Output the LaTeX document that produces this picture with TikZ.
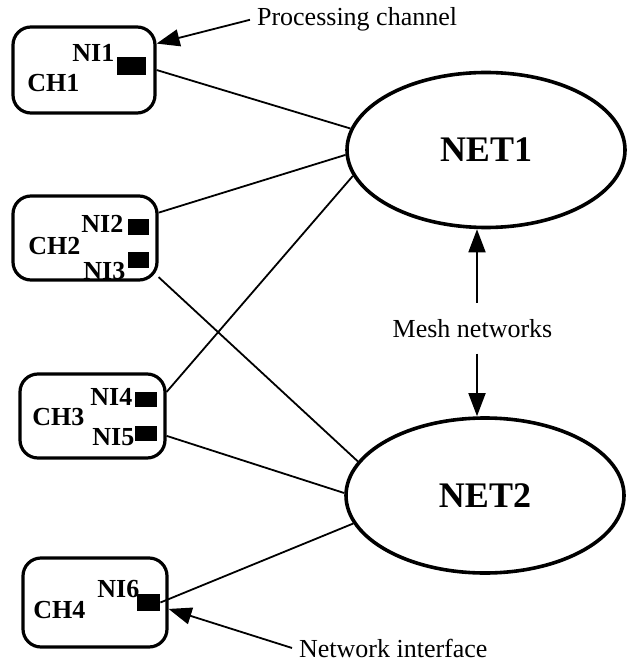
\documentclass[tikz,border=0pt]{standalone}
\usepackage{fontspec}
\setmainfont{Liberation Serif}
\usetikzlibrary{arrows.meta,shapes.geometric}
\begin{document}
\begin{tikzpicture}[x=0.5pt,y=-0.5pt,
  chbox/.style={draw, line width=1.6pt, rounded corners=9pt, inner sep=0pt},
  port/.style={fill=black, inner sep=0pt},
  lbl/.style={font=\fontsize{13}{15}\selectfont\bfseries, inner sep=0pt, anchor=base west},
  net/.style={draw, ellipse, line width=1.8pt, inner sep=0pt, minimum width=139pt, minimum height=77.5pt, font=\fontsize{18}{22}\selectfont\bfseries},
  link/.style={line width=0.9pt},
  note/.style={font=\fontsize{13}{15}\selectfont},
  arr/.style={line width=0.9pt, -{Triangle[length=11.5pt,width=8.5pt]}}]
\useasboundingbox (0,0) rectangle (627,662);

% channel boxes
\node[chbox, minimum width=71pt, minimum height=43pt] (ch1) at (84,70) {};
\node[chbox, minimum width=72pt, minimum height=42pt] (ch2) at (85,238) {};
\node[chbox, minimum width=72.5pt, minimum height=42pt] (ch3) at (92.5,416) {};
\node[chbox, minimum width=72pt, minimum height=44.5pt] (ch4) at (95,602.5) {};

% network interfaces
\node[port, minimum width=14.5pt, minimum height=9pt] (ni1p) at (131.5,66) {};
\node[port, minimum width=10.5pt, minimum height=8pt] (ni2p) at (138.5,227) {};
\node[port, minimum width=10.5pt, minimum height=8pt] (ni3p) at (138.5,260) {};
\node[port, minimum width=11pt, minimum height=7.5pt] (ni4p) at (146,399.5) {};
\node[port, minimum width=11pt, minimum height=7.5pt] (ni5p) at (146,433.5) {};
\node[port, minimum width=11.5pt, minimum height=8.5pt] (ni6p) at (148.5,602.5) {};

% labels
\node[lbl] (ni1l) at (72,62) {NI1};
\node[lbl] (ch1l) at (27,92) {CH1};
\node[lbl] (ni2l) at (81,233) {NI2};
\node[lbl] (ch2l) at (28,255) {CH2};
\node[lbl] (ni3l) at (83,279) {NI3};
\node[lbl] (ni4l) at (90,405) {NI4};
\node[lbl] (ch3l) at (32,425) {CH3};
\node[lbl] (ni5l) at (92,445) {NI5};
\node[lbl] (ni6l) at (97,597) {NI6};
\node[lbl] (ch4l) at (33,618) {CH4};

% networks
\node[net] (net1) at (486,150) {NET1};
\node[net] (net2) at (485,495.5) {NET2};

% links
\draw[link] (ch1.east) -- (net1.171);
\draw[link] (ch2.19) -- (net1.182);
\draw[link] (ch2.-28) -- (net2.165);
\draw[link] (ch3.18) -- (net1.191);
\draw[link] (ch3.-15) -- (net2.179);
\draw[link] (ni6p.east) -- (net2.192);

% annotations
\node[note, anchor=base west] (pc) at (250,26) {Processing channel};
\draw[arr] (pc.west) -- (ch1.20);
\node[note, anchor=base west] (nit) at (292,657) {Network interface};
\draw[arr] (nit.west) -- (ch4.-5);
\node[note, anchor=base, inner ysep=8pt] (mesh) at (472.5,337) {Mesh networks};
\draw[arr] ([xshift=2.25pt]mesh.north) -- ([xshift=2.25pt]mesh.north |- net1.south);
\draw[arr] ([xshift=2.25pt]mesh.south) -- ([xshift=2.25pt]mesh.south |- net2.north);
\end{tikzpicture}
\end{document}
